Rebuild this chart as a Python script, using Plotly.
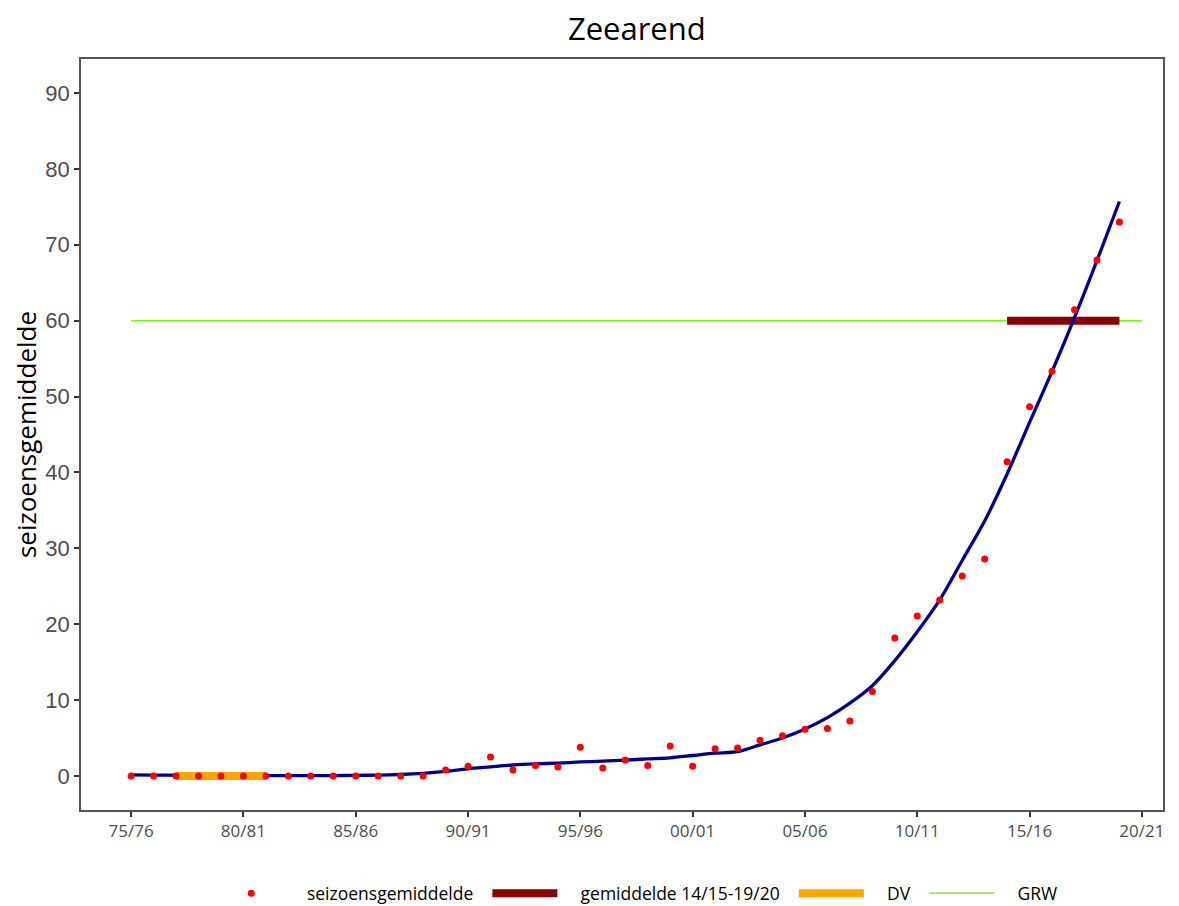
import plotly.graph_objects as go

seasons = [f"{(75 + i) % 100:02d}/{(76 + i) % 100:02d}" for i in range(45)]
season_idx = list(range(45))

season_avg = [0, 0, 0, 0, 0, 0, 0, 0, 0, 0, 0, 0, 0, 0, 0.8,
              1.3, 2.5, 0.8, 1.4, 1.2, 3.8, 1.05, 2.1, 1.4, 3.95,
              1.3, 3.6, 3.7, 4.7, 5.3, 6.15, 6.25, 7.25, 11.15, 18.2,
              21.1, 23.2, 26.35, 28.6, 41.4, 48.65, 53.35, 61.45, 68.0, 73.0]

trend = [0.15, 0.12, 0.1, 0.08, 0.06, 0.05, 0.05, 0.05, 0.05, 0.05,
         0.08, 0.12, 0.2, 0.35, 0.6, 0.95, 1.2, 1.45, 1.6, 1.7,
         1.85, 1.95, 2.1, 2.25, 2.4, 2.7, 3.0, 3.2, 4.1, 5.0,
         6.2, 7.7, 9.6, 11.9, 15.2, 19.0, 23.2, 28.4, 33.6, 39.8,
         46.6, 53.3, 60.4, 67.9, 75.7]

mean_label = "gemiddelde 14/15-19/20"
mean_x = [39, 44]
mean_y = [60, 60]

dv_x = [2, 6]
dv_y = [0, 0]

grw_x = [0, 45]
grw_y = [60, 60]

tick_vals = [0, 5, 10, 15, 20, 25, 30, 35, 40, 45]
tick_text = ["75/76", "80/81", "85/86", "90/91", "95/96", "00/01", "05/06", "10/11", "15/16", "20/21"]

PRE = "\u00a0" * 4
POST = "\u00a0" * 2

fig = go.Figure()

fig.add_trace(go.Scatter(x=grw_x, y=grw_y, mode="lines", name=PRE + "GRW",
                         line=dict(color="#7CFC00", width=1.5), legendrank=4))
fig.add_trace(go.Scatter(x=mean_x, y=mean_y, mode="lines", name=PRE + mean_label + POST,
                         line=dict(color="#8B0000", width=8), legendrank=2))
fig.add_trace(go.Scatter(x=season_idx, y=trend, mode="lines", showlegend=False,
                         line=dict(color="#00008B", width=3.3, shape="spline", smoothing=0.8)))
fig.add_trace(go.Scatter(x=dv_x, y=dv_y, mode="lines", name=PRE + "DV" + POST,
                         line=dict(color="#FFA500", width=8), legendrank=3))
fig.add_trace(go.Scatter(x=season_idx, y=season_avg, mode="markers",
                         name=PRE + "seizoensgemiddelde" + POST,
                         marker=dict(color="#FF0000", size=7), legendrank=1))

fig.update_layout(
    width=1171, height=898,
    paper_bgcolor="white", plot_bgcolor="white",
    margin=dict(l=73, r=16, t=51, b=96, autoexpand=False),
    title=dict(text="Zeearend", x=0.537, xanchor="center", y=1.0, yanchor="top",
               pad=dict(t=10, b=0, l=0, r=0),
               font=dict(family="Open Sans", size=31, color="black")),
    xaxis=dict(range=[-2.23, 45.94], tickmode="array", tickvals=tick_vals, ticktext=tick_text,
               showgrid=False, zeroline=False, showline=True, linecolor="#555555", linewidth=1.5,
               mirror=True, ticks="outside", ticklen=5, tickcolor="#333333", tickwidth=1.5,
               automargin=False,
               tickfont=dict(family="Open Sans", size=17, color="#4d4d4d")),
    yaxis=dict(range=[-4.48, 94.48], tickvals=[0, 10, 20, 30, 40, 50, 60, 70, 80, 90],
               showgrid=False, zeroline=False, showline=True, linecolor="#555555", linewidth=1.5,
               mirror=True, ticks="outside", ticklen=5, tickcolor="#333333", tickwidth=1.5,
               automargin=False,
               tickfont=dict(family="Liberation Sans", size=22, color="#4d4d4d"),
               title=dict(text="seizoensgemiddelde", standoff=8,
                          font=dict(family="Open Sans", size=26, color="black"))),
    legend=dict(orientation="h", x=0.515, xanchor="center", y=-0.111, yanchor="middle",
                font=dict(family="Open Sans", size=17.5, color="black"),
                itemwidth=65, traceorder="normal", bgcolor="rgba(0,0,0,0)"),
    showlegend=True,
)

fig.write_html("out.html")
